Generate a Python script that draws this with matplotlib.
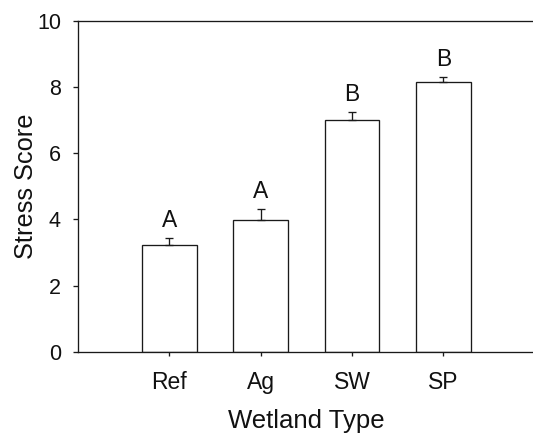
import numpy as np
import matplotlib
matplotlib.use("Agg")
import matplotlib.pyplot as plt

plt.rcParams['font.family'] = ['Liberation Sans', 'DejaVu Sans']

# Mean stress score per wetland type, with standard errors and group letters
categories = ["Ref", "Ag", "SW", "SP"]
means = [3.23, 3.98, 7.01, 8.15]
errors = [0.22, 0.34, 0.23, 0.17]
groups = ["A", "A", "B", "B"]
y_ticks = [0, 2, 4, 6, 8, 10]

W, H = 533, 434
fig = plt.figure(figsize=(W / 100, H / 100), dpi=100)
ax_left, ax_right, ax_top, ax_bottom = 78, 534.6, 21, 351.7
ax = fig.add_axes([ax_left / W, (H - ax_bottom) / H,
                   (ax_right - ax_left) / W, (ax_bottom - ax_top) / H])

x = np.arange(len(categories))
ink = "#1a1a1a"
ax.bar(x, means, width=0.6, color="white", edgecolor=ink, linewidth=0.95, zorder=2)
ax.errorbar(x, means, yerr=[np.zeros(len(errors)), errors], fmt="none",
            ecolor=ink, elinewidth=0.95, capsize=3, capthick=0.95, zorder=3)

for xi, m, e, g in zip(x, means, errors, groups):
    ax.annotate(g, xy=(xi, m + e), xytext=(0, 7.8), textcoords="offset points",
                ha="center", va="baseline", fontsize=16.5, color="#111111")

ax.set_xlim(-1.0, 4.0)
ax.set_ylim(0, 10)
ax.set_yticks(y_ticks)
ax.set_yticklabels([str(t) for t in y_ticks])
ax.set_xticks(x)
ax.set_xticklabels(categories)

ax.tick_params(axis="y", direction="out", length=3.8, width=0.95, pad=8.5,
               labelsize=15.5, color=ink, labelcolor="#111111")
ax.tick_params(axis="x", direction="out", length=3.1, width=0.95, pad=11,
               labelsize=16.5, color=ink, labelcolor="#111111")

for side in ("left", "bottom", "top"):
    ax.spines[side].set_linewidth(0.95)
    ax.spines[side].set_color(ink)
ax.spines["right"].set_visible(False)

fig.text(33 / W, 1 - 186 / H, "Stress Score", rotation=90, rotation_mode="anchor",
         ha="center", va="baseline", fontsize=18.3, color="#111111")
fig.text(306.5 / W, (H - 428) / H, "Wetland Type", ha="center", va="baseline",
         fontsize=18.5, color="#111111")

fig.savefig("out.png", dpi=100)
